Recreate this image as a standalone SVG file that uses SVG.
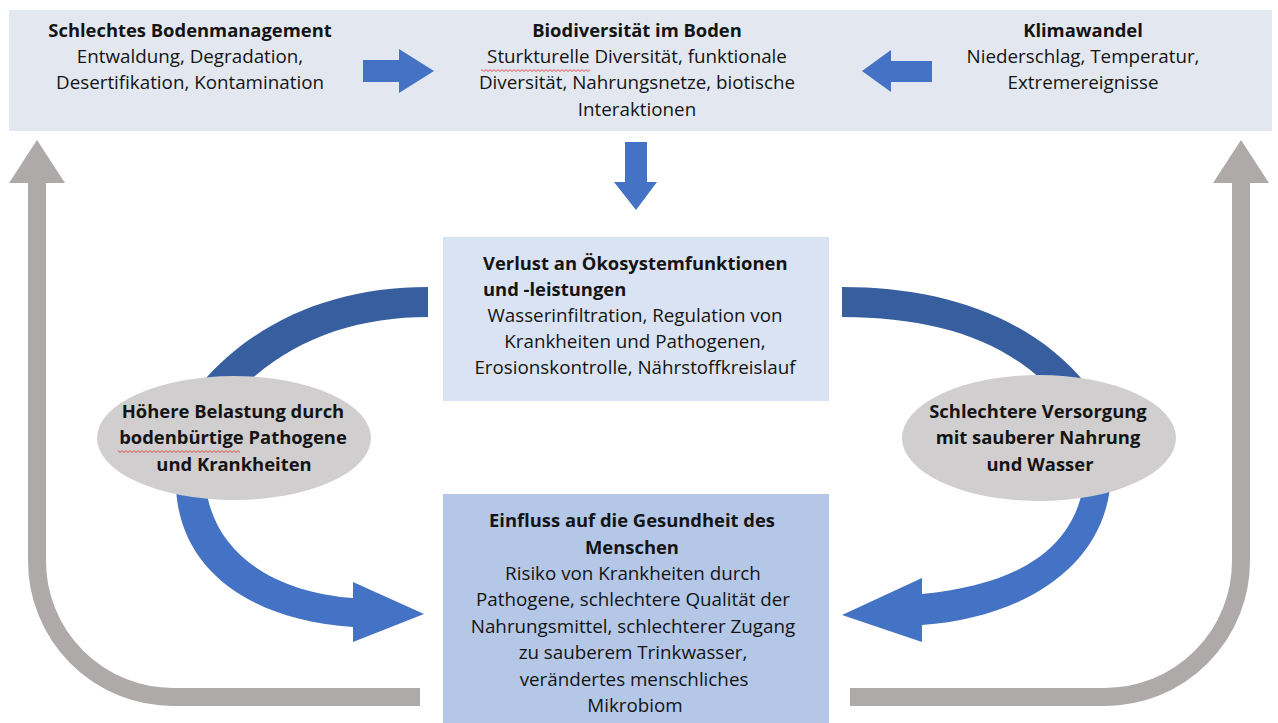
<svg xmlns="http://www.w3.org/2000/svg" width="1278" height="723" viewBox="0 0 1278 723">
<defs>
<style>
text{font-family:"Open Sans","Liberation Sans",sans-serif;font-size:18.8px;fill:#141414;text-anchor:middle}
.b{font-weight:700;font-size:18.4px}
.l{text-anchor:start}
.blue{fill:#4472c4}
.dark{fill:#375e9f}
.gray{fill:none;stroke:#aeaaaa;stroke-width:18}
.grayh{fill:#aeaaaa}
.ell{fill:#d0cece}
</style>
<pattern id="sq" width="4" height="3" patternUnits="userSpaceOnUse"><path d="M0,2.5 L2,0.6 L4,2.5" fill="none" stroke="#e23b3b" stroke-width="0.9"/></pattern>
</defs>
<rect width="1278" height="723" fill="#ffffff"/>
<g id="top-band">
<rect x="9" y="10" width="1263" height="121" fill="#e3e7ef"/>
</g>
<g id="node-boden-management">
<text x="190" y="37" class="b">Schlechtes Bodenmanagement</text>
<text x="190" y="63">Entwaldung, Degradation,</text>
<text x="190" y="89">Desertifikation, Kontamination</text>
</g>
<g id="node-biodiversitaet">
<text x="637" y="37" class="b">Biodiversität im Boden</text>
<text x="637" y="63">Sturkturelle Diversität, funktionale</text>
<text x="637" y="89">Diversität, Nahrungsnetze, biotische</text>
<text x="637" y="116">Interaktionen</text>
<rect x="481" y="69" width="109" height="3" fill="url(#sq)"/>
</g>
<g id="node-klimawandel">
<text x="1083" y="37" class="b">Klimawandel</text>
<text x="1083" y="63">Niederschlag, Temperatur,</text>
<text x="1083" y="89">Extremereignisse</text>
</g>
<g id="connectors">
<polygon class="blue" points="363,60 399,60 399,49 434,71 399,93 399,82 363,82"/>
<polygon class="blue" points="862,71 891,50 891,61 932,61 932,82 891,82 891,92"/>
<polygon class="blue" points="625,142 647,142 647,182 657,182 636,210 614,182 625,182"/>
<path class="dark" d="M428,287 C335,287 255,320 200,385 L245,385 C295,337 360,317 428,317 Z"/>
<path class="dark" d="M842,287 C940,287 1030,315 1087,385 L1047,385 C1000,338 930,317 842,317 Z"/>
<path class="blue" d="M176,488 C180,570 250,620 353,627 L353,642 L424,614 L353,582 L353,598 C275,592 215,555 206,488 Z"/>
<path class="blue" d="M1110,488 C1100,570 1020,618 922,625 L922,642 L842,615 L922,578 L922,594 C1010,585 1070,555 1083,488 Z"/>
<path class="gray" d="M420,697 L173,697 A136,136 0 0 1 37,561 L37,182"/>
<polygon class="grayh" points="9,183 65,183 37,140"/>
<path class="gray" d="M850,697 L1105,697 A136,136 0 0 0 1241,561 L1241,182"/>
<polygon class="grayh" points="1213,183 1269,183 1241,140"/>
</g>
<g id="node-verlust">
<rect x="443" y="237" width="386" height="164" fill="#dae3f3"/>
<text x="483" y="270" class="b l">Verlust an Ökosystemfunktionen</text>
<text x="483" y="296" class="b l">und -leistungen</text>
<text x="635" y="322">Wasserinfiltration, Regulation von</text>
<text x="635" y="348">Krankheiten und Pathogenen,</text>
<text x="635" y="374">Erosionskontrolle, Nährstoffkreislauf</text>
</g>
<g id="node-gesundheit">
<rect x="443" y="494" width="386" height="229" fill="#b4c7e7"/>
<text x="632" y="527" class="b">Einfluss auf die Gesundheit des</text>
<text x="632" y="554" class="b">Menschen</text>
<text x="633" y="580">Risiko von Krankheiten durch</text>
<text x="633" y="606">Pathogene, schlechtere Qualität der</text>
<text x="633" y="633">Nahrungsmittel, schlechterer Zugang</text>
<text x="633" y="659">zu sauberem Trinkwasser,</text>
<text x="634" y="686">verändertes menschliches</text>
<text x="635" y="712">Mikrobiom</text>
</g>
<g id="node-pathogene">
<ellipse class="ell" cx="234" cy="438" rx="137" ry="62"/>
<text x="233" y="418" class="b">Höhere Belastung durch</text>
<text x="233" y="444" class="b">bodenbürtige Pathogene</text>
<text x="234" y="471" class="b">und Krankheiten</text>
<rect x="118" y="450" width="122" height="3" fill="url(#sq)"/>
</g>
<g id="node-versorgung">
<ellipse class="ell" cx="1039" cy="438" rx="137" ry="63"/>
<text x="1038" y="418" class="b">Schlechtere Versorgung</text>
<text x="1038" y="444" class="b">mit sauberer Nahrung</text>
<text x="1040" y="471" class="b">und Wasser</text>
</g>
</svg>
